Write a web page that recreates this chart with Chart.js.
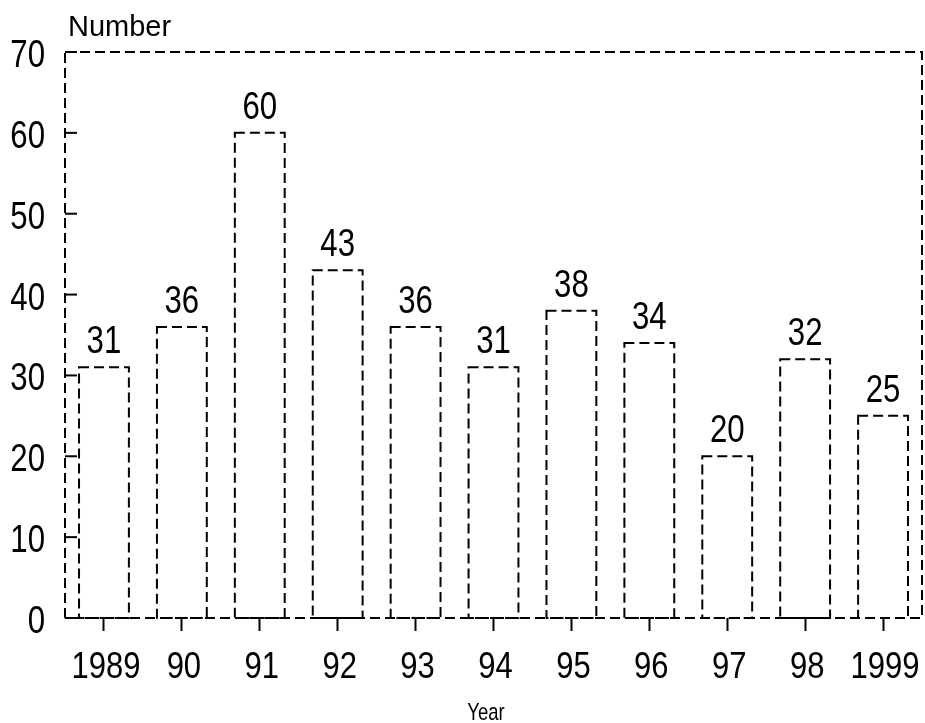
<!DOCTYPE html>
<html lang="en">
<head>
    <meta charset="UTF-8">
    <title>Number by Year</title>
    <script src="https://cdn.jsdelivr.net/npm/chart.js@4.4.0/dist/chart.umd.min.js"></script>
    <style>
        body { margin: 0; background: #fff; }
        #wrap { width: 925px; height: 723px; }
    </style>
</head>
<body>
    <div id="wrap"><canvas id="myChart" width="925" height="723"></canvas></div>
<script>
    const years = ['1989', '90', '91', '92', '93', '94', '95', '96', '97', '98', '1999'];
    const counts = [31, 36, 60, 43, 36, 31, 38, 34, 20, 32, 25];
    const yTicks = [0, 10, 20, 30, 40, 50, 60, 70];

    const sans = '"Liberation Sans", Arial, Helvetica, sans-serif';
    const dash = [10, 5];

    // text squeezed sideways, looks like Helvetica Narrow
    function narrowText(ctx, text, x, y, size, sx, align) {
        ctx.save();
        ctx.translate(x, y);
        ctx.scale(sx, 1);
        ctx.font = size + 'px ' + sans;
        ctx.textAlign = align;
        ctx.textBaseline = 'alphabetic';
        ctx.fillText(text, 0, 0);
        ctx.restore();
    }

    // dashed frame, dashed bar outlines, inward y ticks, texts
    const outlinePlugin = {
        id: 'outline',
        afterDatasetsDraw(chart) {
            const ctx = chart.ctx;
            const area = chart.chartArea;
            const xScale = chart.scales.x;
            const yScale = chart.scales.y;
            const bars = chart.getDatasetMeta(0).data;
            ctx.save();
            ctx.strokeStyle = '#000';
            ctx.fillStyle = '#000';
            ctx.lineWidth = 2;
            ctx.setLineDash(dash);
            bars.forEach(bar => {
                const left = bar.x - bar.width / 2;
                ctx.strokeRect(left, bar.y, bar.width, bar.base - bar.y);
            });
            ctx.strokeRect(area.left, area.top, area.right - area.left, area.bottom - area.top);
            ctx.setLineDash([]);

            yTicks.forEach(v => {
                const py = yScale.getPixelForValue(v);
                ctx.beginPath();
                ctx.moveTo(area.left, py);
                ctx.lineTo(area.left + 12, py);
                ctx.stroke();
                narrowText(ctx, String(v), 45, py + 15, 39, 0.8, 'right');
            });

            years.forEach((yr, i) => {
                narrowText(ctx, yr, xScale.getPixelForTick(i) + 2, 678, 36, 0.86, 'center');
            });

            bars.forEach((bar, i) => {
                narrowText(ctx, String(counts[i]), bar.x, bar.y - 14, 39, 0.8, 'center');
            });

            ctx.font = '29px ' + sans;
            ctx.textAlign = 'left';
            ctx.fillText('Number', 68, 36);
            narrowText(ctx, 'Year', 486, 720, 24, 0.77, 'center');
            ctx.restore();
        }
    };

    const ctx = document.getElementById('myChart').getContext('2d');
    const myChart = new Chart(ctx, {
        type: 'bar',
        data: {
            labels: years,
            datasets: [{
                label: 'Number',
                data: counts,
                backgroundColor: '#fff',
                borderWidth: 0,
                categoryPercentage: 1,
                barPercentage: 0.64,
            }],
        },
        options: {
            responsive: false,
            animation: false,
            layout: { padding: { top: 52, right: 3, left: 0, bottom: 0 } },
            plugins: {
                legend: { display: false },
                tooltip: { enabled: false },
            },
            scales: {
                x: {
                    afterFit(scale) {
                        scale.height = 105;
                        scale.paddingLeft = 0;
                        scale.paddingRight = 0;
                    },
                    border: { display: false },
                    grid: {
                        offset: false,
                        drawOnChartArea: false,
                        drawTicks: true,
                        tickLength: 13,
                        tickWidth: 2,
                        tickColor: '#000',
                    },
                    ticks: { display: false, autoSkip: false },
                },
                y: {
                    min: 0,
                    max: 70,
                    afterFit(scale) {
                        scale.width = 65;
                        scale.paddingTop = 0;
                        scale.paddingBottom = 0;
                    },
                    border: { display: false },
                    grid: { display: false, drawTicks: false },
                    ticks: { display: false, stepSize: 10 },
                },
            },
        },
        plugins: [outlinePlugin],
    });
</script>
</body>
</html>
